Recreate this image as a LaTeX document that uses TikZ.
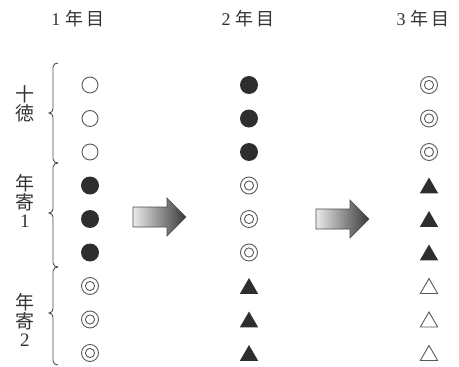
\documentclass[tikz,border=0pt]{standalone}
\usepackage{fontspec}
\setmainfont{Liberation Serif}
\newfontfamily\jp{Noto Sans CJK JP}
\usetikzlibrary{shapes.geometric}
\begin{document}
\begin{tikzpicture}[x=1pt,y=-1pt,
  sym/.style={inner sep=0pt,outer sep=0pt},
  openc/.style={sym,circle,draw=black!65,line width=0.9pt,minimum size=16pt},
  fullc/.style={sym,circle,fill=black!82,minimum size=18pt},
  dblc/.style={sym,circle,draw=black!65,line width=0.9pt,minimum size=17pt,
    path picture={\draw[black!65,line width=0.9pt] (path picture bounding box.center) circle (4.6pt);}},
  fullt/.style={sym,regular polygon,regular polygon sides=3,fill=black!82,minimum size=21pt,yshift=-2.5pt},
  opent/.style={sym,regular polygon,regular polygon sides=3,draw=black!65,line width=0.9pt,minimum size=20pt,yshift=-2.5pt},
  head/.style={inner sep=0pt,font=\fontsize{18}{20}\selectfont,text=black!80},
  side/.style={inner sep=0pt,font=\fontsize{19}{23}\selectfont\jp,text=black!80,align=center},
  bigarrow/.style={draw=black!70,line width=0.7pt,left color=black!8,right color=black!78},
  bracepath/.style={draw=black!70,line width=0.9pt}]
\useasboundingbox (0,0) rectangle (459,367);
% headers
\node[head] (h1) at (78,19) {1\hspace{5pt}{\jp 年\hspace{3pt}目}};
\node[head] (h2) at (248,19) {2\hspace{5pt}{\jp 年\hspace{3pt}目}};
\node[head] (h3) at (423,19) {3\hspace{5pt}{\jp 年\hspace{3pt}目}};
% side labels
\node[side] (l1) at (25,104) {十\\[-4pt]徳};
\node[side] (l2) at (25,201) {年\\[-4pt]寄\\[-5pt]{\rmfamily 1}};
\node[side] (l3) at (25,320) {年\\[-4pt]寄\\[-5pt]{\rmfamily 2}};
% braces
\draw[bracepath] (58,63) to[out=180,in=90] (53,67) -- (53,109) to[out=-90,in=0] (49,113) to[out=0,in=90] (53,117) -- (53,159) to[out=-90,in=180] (58,163);
\draw[bracepath] (58,163) to[out=180,in=90] (53,167) -- (53,209) to[out=-90,in=0] (49,213) to[out=0,in=90] (53,217) -- (53,263) to[out=-90,in=180] (58,267);
\draw[bracepath] (58,267) to[out=180,in=90] (53,271) -- (53,309) to[out=-90,in=0] (49,313) to[out=0,in=90] (53,317) -- (53,361) to[out=-90,in=180] (58,365);
% column 1
\foreach \i/\s in {1/openc,2/openc,3/openc,4/fullc,5/fullc,6/fullc,7/dblc,8/dblc,9/dblc}
  \node[\s] (a\i) at (90,{85+33.5*(\i-1)}) {};
% column 2
\foreach \i/\s in {1/fullc,2/fullc,3/fullc,4/dblc,5/dblc,6/dblc,7/fullt,8/fullt,9/fullt}
  \node[\s] (b\i) at (249,{85+33.5*(\i-1)}) {};
% column 3
\foreach \i/\s in {1/dblc,2/dblc,3/dblc,4/fullt,5/fullt,6/fullt,7/opent,8/opent,9/opent}
  \node[\s] (c\i) at (429,{85+33.5*(\i-1)}) {};
% arrows
\path[bigarrow] (133,207) -- (167,207) -- (167,198) -- (186,217) -- (167,236) -- (167,227) -- (133,227) -- cycle;
\path[bigarrow] (316,209) -- (350,209) -- (350,200) -- (369,219) -- (350,238) -- (350,229) -- (316,229) -- cycle;
\end{tikzpicture}
\end{document}
